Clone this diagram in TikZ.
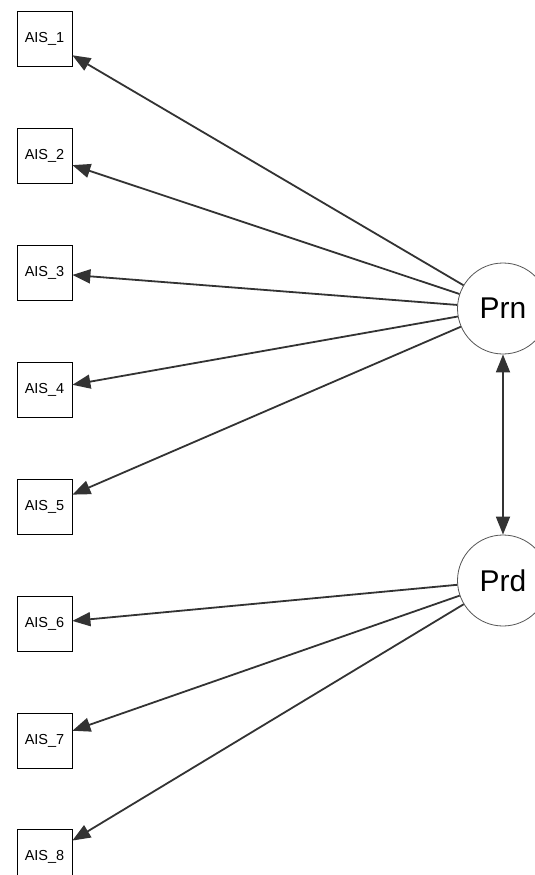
\documentclass[tikz,border=0pt]{standalone}
\usepackage{fontspec}
\setmainfont{Liberation Sans}
\usetikzlibrary{arrows.meta, positioning}
\definecolor{edgeDark}{HTML}{333333}
\definecolor{latentGray}{HTML}{555555}

\begin{document}
\begin{tikzpicture}[x=1pt, y=1pt,
    manifest/.style={rectangle, draw=black, line width=0.8pt, minimum size=55pt,
                     inner sep=0pt, font=\fontsize{14.5}{16}\selectfont},
    latent/.style={circle, draw=latentGray, line width=0.8pt, minimum size=91pt,
                   inner sep=0pt, fill=white, font=\fontsize{30}{32}\selectfont},
    load/.style={-{Triangle[length=18pt, width=14pt]}, line width=1.8pt, edgeDark},
    covar/.style={{Triangle[length=18pt, width=14pt]}-{Triangle[length=18pt, width=14pt]},
                  line width=1.8pt, edgeDark},
  ]
    \useasboundingbox (0,0) rectangle (535,-875);

    \node[manifest] at (44.5,-39) (a1) {AIS\_1};
    \node[manifest, below=61.1pt of a1] (a2) {AIS\_2};
    \node[manifest, below=61.1pt of a2] (a3) {AIS\_3};
    \node[manifest, below=61.1pt of a3] (a4) {AIS\_4};
    \node[manifest, below=61.1pt of a4] (a5) {AIS\_5};
    \node[manifest, below=61.1pt of a5] (a6) {AIS\_6};
    \node[manifest, below=61.1pt of a6] (a7) {AIS\_7};
    \node[manifest, below=61.1pt of a7] (a8) {AIS\_8};

    \node[latent] at (503,-308.5) (prn) {Prn};
    \node[latent] at (503,-580.5) (prd) {Prd};

    % loadings
    \draw[load] (prn) -- (a1);
    \draw[load] (prn) -- (a2);
    \draw[load] (prn) -- (a3);
    \draw[load] (prn) -- (a4);
    \draw[load] (prn) -- (a5);
    \draw[load] (prd) -- (a6);
    \draw[load] (prd) -- (a7);
    \draw[load] (prd) -- (a8);

    \draw[covar] (prn) -- (prd);
  \end{tikzpicture}
\end{document}
